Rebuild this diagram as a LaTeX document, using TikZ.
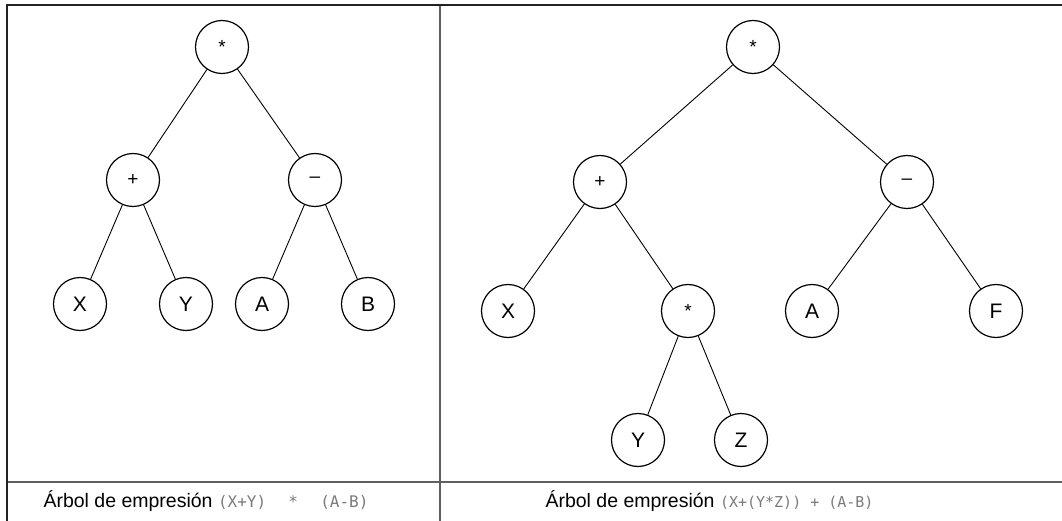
\documentclass[tikz,border=0pt]{standalone}
\usepackage{fontspec}
\setmainfont{Liberation Sans}
\newfontfamily\codefont{DejaVu Sans Mono}
\usetikzlibrary{positioning}
\definecolor{cframe}{HTML}{222222}
\definecolor{cgrid}{HTML}{5E5E5E}
\definecolor{ccode}{HTML}{7A7A7A}
\tikzset{
  every picture/.style={line width=1pt},
  leaf/.style={draw, circle, minimum size=53pt, inner sep=0pt, line width=1.2pt, font=\fontsize{21}{21}\selectfont},
  op/.style={leaf, font=\fontsize{19}{19}\selectfont},
  edge/.style={draw, line width=0.9pt},
  rule/.style={draw=cgrid, line width=2pt},
  caption/.style={anchor=west, inner sep=0pt, font=\fontsize{19.5}{20}\selectfont},
}
\newcommand{\code}[2][15]{{\codefont\fontsize{#1}{#1}\selectfont\color{ccode}#2}}

\begin{document}
\begin{tikzpicture}[x=1pt, y=-1pt]
  \useasboundingbox (0,0) rectangle (1062,521);
  % table lines
  \draw[rule] (7,482) -- (1062,482);
  \draw[rule] (440,5) -- (440,521);
  \draw[rule, draw=cframe] (7,521) -- (7,5) -- (1062,5);
  % left tree: (X+Y) * (A-B)
  \node[op] (l-root) at (222,47) {\raisebox{-0.35ex}{*}};
  \node[op] (l-plus) at (133,180) {+};
  \node[op] (l-minus) at (315,180) {--};
  \node[leaf] (l-x) at (80,304) {X};
  \node[leaf] (l-y) at (186,304) {Y};
  \node[leaf] (l-a) at (262,304) {A};
  \node[leaf] (l-b) at (368,304) {B};
  \draw[edge] (l-root) -- (l-plus);
  \draw[edge] (l-root) -- (l-minus);
  \draw[edge] (l-plus) -- (l-x);
  \draw[edge] (l-plus) -- (l-y);
  \draw[edge] (l-minus) -- (l-a);
  \draw[edge] (l-minus) -- (l-b);
  % right tree: (X+(Y*Z)) + (A-B)
  \node[op] (r-root) at (753,47) {\raisebox{-0.35ex}{*}};
  \node[op] (r-plus) at (600,182) {+};
  \node[op] (r-minus) at (907,182) {--};
  \node[leaf] (r-x) at (508,311) {X};
  \node[op] (r-times) at (688,311) {\raisebox{-0.35ex}{*}};
  \node[leaf] (r-a) at (812,311) {A};
  \node[leaf] (r-f) at (996,311) {F};
  \node[leaf] (r-y) at (638,440) {Y};
  \node[leaf] (r-z) at (741,440) {Z};
  \draw[edge] (r-root) -- (r-plus);
  \draw[edge] (r-root) -- (r-minus);
  \draw[edge] (r-plus) -- (r-x);
  \draw[edge] (r-plus) -- (r-times);
  \draw[edge] (r-times) -- (r-y);
  \draw[edge] (r-times) -- (r-z);
  \draw[edge] (r-minus) -- (r-a);
  \draw[edge] (r-minus) -- (r-f);
  % captions
  \node[caption] (l-cap) at (43,501) {Árbol de empresión \code[16]{(X+Y)~~\hspace{3pt}*~~\hspace{3pt}(A-B)}};
  \node[caption] (r-cap) at (545,501) {Árbol de empresión \code{(X+(Y*Z))~+~(A-B)}};
\end{tikzpicture}
\end{document}
